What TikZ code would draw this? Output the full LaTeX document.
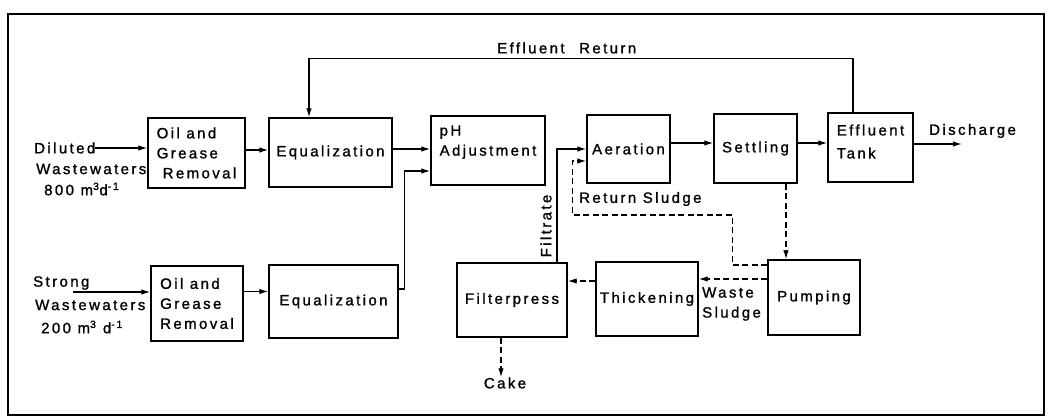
\documentclass[tikz,border=0pt]{standalone}
\usepackage{fontspec}
\setmainfont{Liberation Sans}[LetterSpace=16, FakeBold=1.2]
\usepackage{tikz}
\usetikzlibrary{arrows.meta,positioning,calc}

\begin{document}
\begin{tikzpicture}[
  x=1pt, y=-1pt,
  every node/.style={font=\fontsize{15}{20}\selectfont, inner sep=0pt},
  box/.style 2 args={draw, line width=1.3pt, align=left,
              minimum width=#1pt, minimum height=#2pt},
  arr/.style={-{Latex[length=9pt,width=5.5pt]}, line width=1.3pt},
  darr/.style={arr, dash pattern=on 6pt off 3.5pt},
]
  \useasboundingbox (0,0) rectangle (1050,419);
  \draw[line width=2.8pt] (8,14) rectangle (1044,415);

  % Top row: diluted stream
  \node[box={97}{70}]  (og1)     at (196.5,153) {Oil and\\Grease\\\hspace*{6pt}Removal};
  \node[box={123}{69}] (eq1)     at (330.5,152.5) {Equalization};
  \node[box={114}{69}] (ph)      at (488,150.5) {pH\\Adjustment\\\mbox{}};
  \node[box={83}{68}]  (aer)     at (628.5,149) {Aeration};
  \node[box={83}{69}]  (settle)  at (755.5,148.5) {Settling};
  \node[box={85}{69}]  (efftank) at (870.5,147.5) {Effluent\\[3pt]Tank\\[-8pt]\mbox{}};

  % Bottom row: strong stream and sludge line
  \node[box={92}{75}]  (og2)     at (197,303.5) {Oil and\\Grease\\Removal};
  \node[box={129}{73}] (eq2)     at (333.5,301.5) {Equalization};
  \node[box={110}{74}] (fpress)  at (512,300) {Filterpress};
  \node[box={102}{74}] (thick)   at (647,299) {Thickening};
  \node[box={92}{75}]  (pump)    at (814,297.5) {Pumping};

  % Inflows and outflows
  \node[anchor=west] (dil)    at (34,148) {Diluted};
  \node[anchor=west] (dilww)  at (36,169) {Wastewaters};
  \node[anchor=west] (dilq)   at (44,189) {800 m\textsuperscript{3}d\textsuperscript{-1}};
  \node[anchor=west] (strg)   at (33,283) {Strong};
  \node[anchor=west] (strww)  at (35,305) {Wastewaters};
  \node[anchor=west] (strq)   at (41,327) {200 m\textsuperscript{3} d\textsuperscript{-1}};
  \coordinate (strin) at (73,292);
  \node[anchor=west] (dis)    at (929,131) {Discharge};
  \coordinate (disend) at (962,144);
  \node (cake) at (505,383) {Cake};

  % Line labels
  \node[anchor=west] (effret) at (497,48) {Effluent\hspace{8pt} Return};
  \node[anchor=west] (retsl)  at (579,199) {Return Sludge};
  \node[anchor=west, align=left] (wastesl) at (702,304) {Waste\\Sludge};
  \node[rotate=90] (filt) at (546,226) {Filtrate};

  % Liquid line
  \draw[arr] (dil.east) -- (dil.east -| og1.west);
  \draw[arr] ([yshift=3pt]og1.east) -- ([yshift=3pt]og1.east -| eq1.west);
  \draw[arr] ([yshift=3.5pt]eq1.east) -- ([yshift=3.5pt]eq1.east -| ph.west);
  \draw[arr] (strin) -- (strin -| og2.west);
  \draw[arr] ([yshift=12pt]og2.east) -- ([yshift=12pt]og2.east -| eq2.west);
  \draw[arr] ([yshift=12.5pt]eq2.east) -- ++(6,0) |- ([yshift=-20.5pt]ph.west);
  \draw[arr] ([yshift=6pt]aer.east) -- ([yshift=6pt]aer.east -| settle.west);
  \draw[arr] ([yshift=5.5pt]settle.east) -- ([yshift=5.5pt]settle.east -| efftank.west);
  \draw[arr] ([yshift=3.5pt]efftank.east) -- (disend);
  \draw[arr] ([xshift=-17.5pt]efftank.north) -- ++(0,-54) -| ([xshift=-21.5pt]eq1.north);
  \draw[arr] ([xshift=45pt]fpress.north) |- (aer.west);

  % Sludge line
  \draw[darr] ([xshift=30.5pt]settle.south) -- ([xshift=30.5pt]settle.south |- pump.north);
  \draw[darr] ([yshift=32.5pt]pump.west) -| ++(-35,-50) -- ++(-160,0) |- ([yshift=-12pt]aer.west);
  \draw[darr] ([yshift=18.5pt]pump.west) -- ([yshift=18.5pt]pump.west -| thick.east);
  \draw[darr] ([yshift=18pt]thick.west) -- ([yshift=18pt]thick.west -| fpress.east);
  \draw[darr] ([xshift=-11pt]fpress.south) -- ([xshift=-11pt]fpress.south |- cake.north);
\end{tikzpicture}
\end{document}
